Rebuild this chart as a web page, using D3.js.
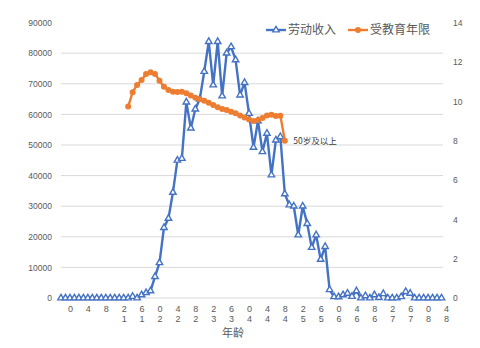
<!DOCTYPE html>
<html>
<head>
<meta charset="utf-8">
<script src="https://cdn.jsdelivr.net/npm/d3@7"></script>
<style>
  html, body { margin: 0; padding: 0; background: #fff; }
  svg { display: block; font-family: "Liberation Sans", Arial, "Noto Sans CJK SC", sans-serif; }
</style>
</head>
<body>
<svg id="chart" width="480" height="348"></svg>
<script>
// Age categories (years)
const ages = d3.range(-2, 85);

// 劳动收入 by age, from -2 to 83
const incomeAges = d3.range(-2, 84);
const income = [
  0, 0, 0, 0, 0, 0, 0, 0, 0, 0, 0, 0, 0, 0, 0, 0,          // -2 .. 13
  500, 0, 1000, 1700, 2300, 7000, 11500, 23000, 26000, 34500, // 14 .. 23
  45000, 45600, 64000, 55500, 61700, 65000, 74000, 83800, 69600, 83800, // 24 .. 33
  66000, 80000, 82100, 77800, 66300, 70400, 60300, 49200, 57900, 47800, // 34 .. 43
  53800, 40200, 51600, 52700, 34000, 30400, 30000, 20600, 30000, 24300, // 44 .. 53
  16500, 20600, 12600, 16800, 2700, 400, 350, 1000, 1500, 500,          // 54 .. 63
  2300, 0, 700, 0, 1000, 100, 1400, 0, 0, 0,                            // 64 .. 73
  400, 2100, 1500, 0, 0, 0, 0, 0, 0, 0                                  // 74 .. 83
];

// 受教育年限 by age, from 13 to 48 (48 = 50岁及以上)
const eduAges = d3.range(13, 49);
const education = [
  9.73, 10.46, 10.83, 11.08, 11.39, 11.47, 11.39, 11.05, 10.74, 10.57, // 13 .. 22
  10.49, 10.47, 10.49, 10.41, 10.29, 10.18, 10.10, 10.03, 9.93, 9.81,  // 23 .. 32
  9.70, 9.61, 9.56, 9.47, 9.39, 9.28, 9.18, 9.08, 9.00, 9.05,          // 33 .. 42
  9.15, 9.28, 9.32, 9.25, 9.27, 8.00                                   // 43 .. 48
];

const xTicks = d3.range(0, 85, 4);
const leftTicks = d3.range(0, 90001, 10000);
const rightTicks = d3.range(0, 15, 2);
const seriesNames = ["劳动收入", "受教育年限"];
const axisTitle = "年龄";
const noteText = "50岁及以上";

const blue = "#4472C4";
const orange = "#ED7D31";
const textColor = "#595959";

const svg = d3.select("#chart");

const plotLeft = 61, plotRight = 443, plotTop = 22.6, plotBottom = 298;

const x = d3.scalePoint().domain(ages).range([plotLeft, 446]);
const yL = d3.scaleLinear().domain([0, 90000]).range([plotBottom, plotTop]);
const yR = d3.scaleLinear().domain([0, 14]).range([plotBottom, plotTop]);

// gridlines (left axis scale, top one omitted)
svg.append("g")
  .selectAll("line")
  .data(leftTicks.filter(t => t < 90000))
  .join("line")
  .attr("x1", plotLeft).attr("x2", plotRight)
  .attr("y1", d => yL(d)).attr("y2", d => yL(d))
  .attr("stroke", "#d9d9d9").attr("stroke-width", 1);

// left axis
const gL = svg.append("g")
  .attr("transform", `translate(${plotLeft - 9},0)`)
  .call(d3.axisLeft(yL).tickValues(leftTicks).tickFormat(d3.format("d")).tickSize(0).tickPadding(0));
gL.select(".domain").remove();
gL.selectAll("text").attr("fill", textColor).attr("font-size", 8.5)
  .attr("font-family", "Liberation Sans, Arial, sans-serif");

// right axis
const gR = svg.append("g")
  .attr("transform", `translate(453,0)`)
  .call(d3.axisRight(yR).tickValues(rightTicks).tickFormat(d3.format("d")).tickSize(0).tickPadding(0));
gR.select(".domain").remove();
gR.selectAll("text").attr("fill", textColor).attr("font-size", 8.5)
  .attr("font-family", "Liberation Sans, Arial, sans-serif");

// bottom axis with stacked digits (last digit on top, leading digits below)
const gB = svg.append("g")
  .attr("transform", `translate(0,${plotBottom})`)
  .call(d3.axisBottom(x).tickValues(xTicks).tickSize(0).tickPadding(0).tickFormat(""));
gB.select(".domain").remove();
gB.selectAll(".tick text").each(function(d) {
  const s = String(d);
  const t = d3.select(this)
    .attr("fill", textColor)
    .attr("font-size", 9)
    .attr("font-family", "Liberation Sans, Arial, sans-serif")
    .attr("dy", null)
    .attr("y", 0);
  t.text(null);
  t.append("tspan").attr("x", 0).attr("y", 14).text(s.slice(-1));
  if (s.length > 1) {
    t.append("tspan").attr("x", 0).attr("y", 24).text(s.slice(0, -1));
  }
});

// axis title
svg.append("text")
  .attr("x", 233).attr("y", 337)
  .attr("text-anchor", "middle")
  .attr("font-size", 11)
  .attr("fill", textColor)
  .attr("font-family", "Noto Sans CJK SC, sans-serif")
  .text(axisTitle);

// 劳动收入 line
const incomeData = incomeAges.map((a, i) => ({ a, v: income[i] }));
svg.append("path")
  .datum(incomeData)
  .attr("fill", "none")
  .attr("stroke", blue)
  .attr("stroke-width", 2.4)
  .attr("stroke-linejoin", "round")
  .attr("d", d3.line().x(d => x(d.a)).y(d => yL(d.v)));

const tri = d3.symbol().type(d3.symbolTriangle).size(18);
svg.append("g")
  .selectAll("path")
  .data(incomeData)
  .join("path")
  .attr("transform", d => `translate(${x(d.a)},${yL(d.v)})`)
  .attr("d", tri)
  .attr("fill", "#fff")
  .attr("stroke", blue)
  .attr("stroke-width", 1.4);

// 受教育年限 line
const eduData = eduAges.map((a, i) => ({ a, v: education[i] }));
svg.append("path")
  .datum(eduData)
  .attr("fill", "none")
  .attr("stroke", orange)
  .attr("stroke-width", 2.4)
  .attr("stroke-linejoin", "round")
  .attr("d", d3.line().x(d => x(d.a)).y(d => yR(d.v)));

svg.append("g")
  .selectAll("circle")
  .data(eduData)
  .join("circle")
  .attr("cx", d => x(d.a))
  .attr("cy", d => yR(d.v))
  .attr("r", 3)
  .attr("fill", orange);

// note next to the last education point
const last = eduData[eduData.length - 1];
svg.append("text")
  .attr("x", x(last.a) + 8.5)
  .attr("y", yR(last.v) + 3)
  .attr("font-size", 8.5)
  .attr("fill", "#404040")
  .attr("font-family", "Noto Sans CJK SC, sans-serif")
  .text(noteText);

// legend
const legend = svg.append("g").attr("font-family", "Noto Sans CJK SC, sans-serif");
const lg1 = legend.append("g").attr("transform", "translate(266,30)");
lg1.append("line").attr("x1", 0).attr("x2", 20).attr("stroke", blue).attr("stroke-width", 2.4);
lg1.append("path").attr("transform", "translate(10,0)").attr("d", tri)
  .attr("fill", "#fff").attr("stroke", blue).attr("stroke-width", 1.4);
lg1.append("text").attr("x", 22).attr("y", 4.3).attr("font-size", 12).attr("fill", textColor).text(seriesNames[0]);

const lg2 = legend.append("g").attr("transform", "translate(348,30)");
lg2.append("line").attr("x1", 0).attr("x2", 20).attr("stroke", orange).attr("stroke-width", 2.4);
lg2.append("circle").attr("cx", 10).attr("cy", 0).attr("r", 3).attr("fill", orange);
lg2.append("text").attr("x", 22).attr("y", 4.3).attr("font-size", 12).attr("fill", textColor).text(seriesNames[1]);
</script>
</body>
</html>
